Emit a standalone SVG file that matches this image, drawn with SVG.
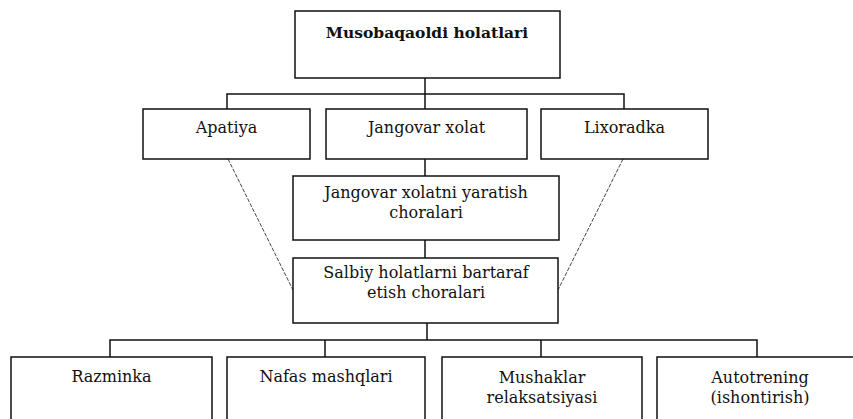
<svg xmlns="http://www.w3.org/2000/svg" width="853" height="419" viewBox="0 0 853 419">
<style>
.box{fill:#fff;stroke:#111;stroke-width:1.5}
.t{font-family:'DejaVu Serif',serif;font-size:16px;fill:#111;text-anchor:middle}
.b{font-weight:bold;font-size:15.5px}
.c{fill:none;stroke:#111;stroke-width:1.5}
.d{fill:none;stroke:#444;stroke-width:1;stroke-dasharray:4 1.5}
</style>
<rect width="853" height="419" fill="#fff"/>
<g id="connectors">
<path class="c" d="M425 78V109M227 109V94H624V109"/>
<path class="c" d="M425 159V176M425 240V258"/>
<path class="c" d="M427 323V340M110 357V340H757V357M325 340V357M541 340V357"/>
<path class="d" d="M228 159L293 290M623 159L558 290"/>
</g>
<g id="n_top"><rect class="box" x="295" y="11" width="265" height="67"/><text class="t b" x="427" y="38">Musobaqaoldi holatlari</text></g>
<g id="n_apatiya"><rect class="box" x="143" y="109" width="167" height="50"/><text class="t" x="226.5" y="133">Apatiya</text></g>
<g id="n_jangovar"><rect class="box" x="326" y="109" width="201" height="50"/><text class="t" x="426.5" y="133">Jangovar xolat</text></g>
<g id="n_lixoradka"><rect class="box" x="541" y="109" width="167" height="50"/><text class="t" x="624.5" y="133">Lixoradka</text></g>
<g id="n_yaratish"><rect class="box" x="293" y="176" width="266" height="64"/><text class="t" x="426" y="198">Jangovar xolatni yaratish</text><text class="t" x="426" y="218">choralari</text></g>
<g id="n_salbiy"><rect class="box" x="293" y="258" width="265" height="65"/><text class="t" x="426" y="278">Salbiy holatlarni bartaraf</text><text class="t" x="426" y="298">etish choralari</text></g>
<g id="n_razminka"><rect class="box" x="11" y="357" width="201" height="80"/><text class="t" x="111.5" y="382">Razminka</text></g>
<g id="n_nafas"><rect class="box" x="227" y="357" width="198" height="80"/><text class="t" x="326" y="382">Nafas mashqlari</text></g>
<g id="n_mushaklar"><rect class="box" x="442" y="357" width="200" height="80"/><text class="t" x="542" y="383">Mushaklar</text><text class="t" x="542" y="403">relaksatsiyasi</text></g>
<g id="n_autotrening"><rect class="box" x="657" y="357" width="206" height="80"/><text class="t" x="760" y="383">Autotrening</text><text class="t" x="760" y="403">(ishontirish)</text></g>
</svg>
